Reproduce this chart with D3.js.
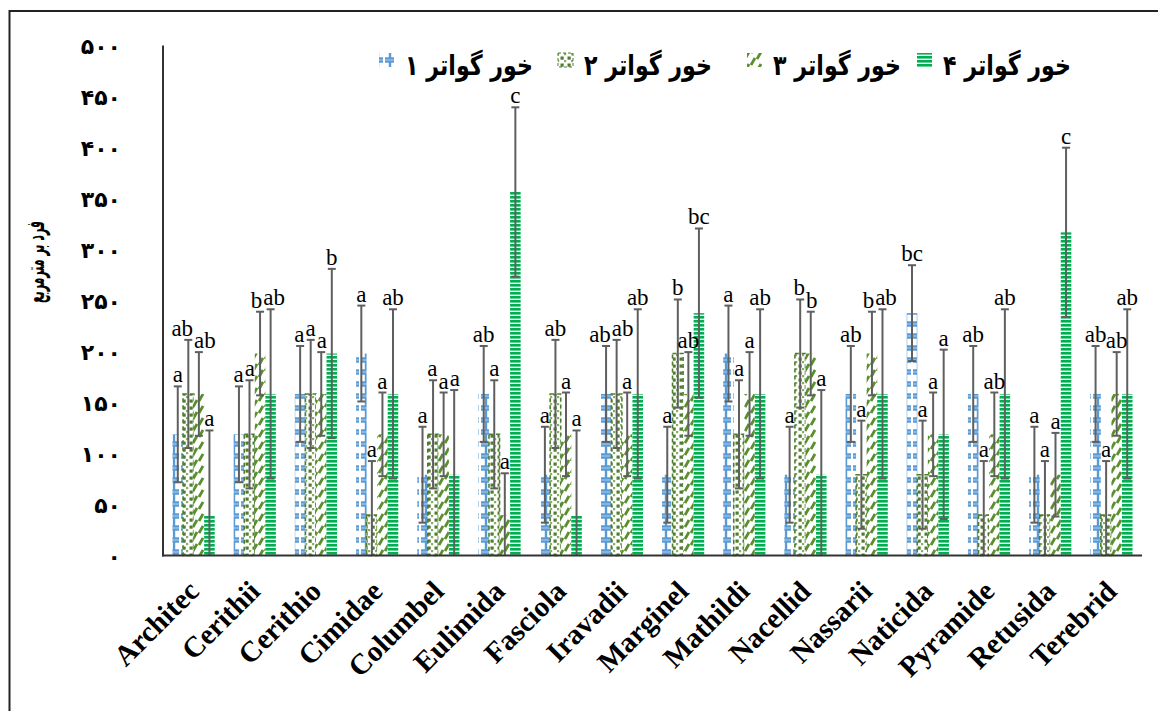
<!DOCTYPE html>
<html><head><meta charset="utf-8">
<script src="https://cdn.jsdelivr.net/npm/d3@7"></script>
<style>body{margin:0;background:#fff}</style>
</head><body>
<svg id="chart" width="1158" height="711"></svg>
<script>
const categories = ["Architec","Cerithii","Cerithio","Cimidae","Columbel","Eulimida","Fasciola","Iravadii","Marginel","Mathildi","Nacellid","Nassarii","Naticida","Pyramide","Retusida","Terebrid"];
const seriesNames = ["خور گواتر ۱","خور گواتر ۲","خور گواتر ۳","خور گواتر ۴"];
const means1 = [118.8,118.8,158.4,198,79.2,158.4,79.2,158.4,79.2,198,79.2,158.4,237.6,158.4,79.2,158.4];
const means2 = [158.4,118.8,158.4,39.6,118.8,118.8,158.4,158.4,198,118.8,198,79.2,79.2,39.6,39.6,39.6];
const means3 = [158.4,198,158.4,118.8,118.8,39.6,118.8,118.8,158.4,158.4,198,198,118.8,118.8,79.2,158.4];
const means4 = [39.6,158.4,198,158.4,79.2,356.4,39.6,158.4,237.6,158.4,79.2,158.4,118.8,158.4,316.8,158.4];
const err1 = [47,47,47,47,47,47,47,47,47,47,47,47,47,47,47,47];
const err2 = [53,53,53,53,53,53,53,53,53,53,53,53,53,53,53,53];
const err3 = [41,41,41,41,41,41,41,41,41,41,41,41,41,41,41,41];
const err4 = [83,83,83,83,83,83,83,83,83,83,83,83,83,83,83,83];
const letters1 = ["a","a","a","a","a","ab","a","ab","a","a","a","ab","bc","ab","a","ab"];
const letters2 = ["ab","a","a","a","a","a","ab","ab","b","a","b","a","a","a","a","a"];
const letters3 = ["ab","b","a","a","a","a","a","a","ab","a","b","b","a","ab","a","ab"];
const letters4 = ["a","ab","b","ab","a","c","a","ab","bc","ab","a","ab","a","ab","c","ab"];
const yTickValues = [0,50,100,150,200,250,300,350,400,450,500];
const yTickLabels = ["۰","۵۰","۱۰۰","۱۵۰","۲۰۰","۲۵۰","۳۰۰","۳۵۰","۴۰۰","۴۵۰","۵۰۰"];
const yTitle = "فرد بر مترمربع";

const meansAll = [means1, means2, means3, means4];
const errAll = [err1, err2, err3, err4];
const lettersAll = [letters1, letters2, letters3, letters4];

const svg = d3.select("#chart");
const W = 1158, H = 711;
svg.append("rect").attr("width", W).attr("height", H).attr("fill", "#fff");

// outer frame (only top and left visible)
svg.append("path").attr("d", "M9.5,720 V11 H1170").attr("fill", "none").attr("stroke", "#222").attr("stroke-width", 2);

const plot = {left: 163, right: 1142, top: 45.5, bottom: 555.5};

const x = d3.scaleBand().domain(categories).range([plot.left, plot.right]).paddingInner(0.31).paddingOuter(0.155);
const xs = d3.scaleBand().domain([0,1,2,3]).range([0, x.bandwidth()]);
const y = d3.scaleLinear().domain([0, 500]).range([plot.bottom, plot.top]);

// patterns
const defs = svg.append("defs");
const p1 = defs.append("pattern").attr("id","pat1").attr("patternUnits","userSpaceOnUse").attr("width",12).attr("height",12);
p1.append("rect").attr("width",12).attr("height",12).attr("fill","#fff");
p1.append("path").attr("d","M1,1.5H11M1,10.5H11M6,1.5V10.5").attr("stroke","#5B9BD5").attr("stroke-width",2.4).attr("fill","none");

const p2 = defs.append("pattern").attr("id","pat2").attr("patternUnits","userSpaceOnUse").attr("width",7).attr("height",7);
p2.append("rect").attr("width",7).attr("height",7).attr("fill","#fff");
p2.append("rect").attr("x",0.5).attr("y",0.5).attr("width",3.2).attr("height",3.2).attr("fill","#4E7D2F");
p2.append("rect").attr("x",4).attr("y",4).attr("width",2.2).attr("height",2.2).attr("fill","#86ad62");

const p3 = defs.append("pattern").attr("id","pat3").attr("patternUnits","userSpaceOnUse").attr("width",12).attr("height",12);
p3.append("rect").attr("width",12).attr("height",12).attr("fill","#fff");
p3.append("path").attr("d","M1,11 L5,4 M7,5 L11,-2 M7,17 L11,10").attr("stroke","#5A8F2E").attr("stroke-width",2.8).attr("fill","none");

const p4 = defs.append("pattern").attr("id","pat4").attr("patternUnits","userSpaceOnUse").attr("width",4).attr("height",4);
p4.append("rect").attr("width",4).attr("height",4).attr("fill","#fff");
p4.append("rect").attr("width",4).attr("height",2.6).attr("fill","#00B050");

const fills = ["url(#pat1)","url(#pat2)","url(#pat3)","url(#pat4)"];

// bars
const barsData = [];
categories.forEach((c, ci) => {
  for (let s = 0; s < 4; s++) {
    barsData.push({cat: c, ci, s, m: meansAll[s][ci], e: errAll[s][ci], l: lettersAll[s][ci]});
  }
});

const gBars = svg.append("g");
gBars.selectAll("rect").data(barsData).join("rect")
  .attr("x", d => x(d.cat) + xs(d.s))
  .attr("y", d => y(d.m))
  .attr("width", xs.bandwidth())
  .attr("height", d => y(0) - y(d.m))
  .attr("fill", d => fills[d.s])
  .attr("stroke", d => d.s === 1 ? "#4E7D2F" : "none")
  .attr("stroke-width", 1.6)
  .attr("stroke-dasharray", d => d.s === 1 ? "4,3" : null);

// error bars
const gErr = svg.append("g").attr("stroke", "#5f5f5f").attr("stroke-width", 2);
barsData.forEach(d => {
  const cx = x(d.cat) + xs(d.s) + xs.bandwidth() / 2;
  const lo = Math.max(0, d.m - d.e), hi = d.m + d.e;
  gErr.append("line").attr("x1", cx).attr("x2", cx).attr("y1", y(lo)).attr("y2", y(hi));
  gErr.append("line").attr("x1", cx - 4).attr("x2", cx + 4).attr("y1", y(hi)).attr("y2", y(hi));
  if (d.m - d.e > 0) gErr.append("line").attr("x1", cx - 4).attr("x2", cx + 4).attr("y1", y(lo)).attr("y2", y(lo));
});

// letters (with simple horizontal de-overlap inside each group)
const gLet = svg.append("g");
const letNodes = gLet.selectAll("text").data(barsData).join("text")
  .attr("x", d => x(d.cat) + xs(d.s) + xs.bandwidth() / 2)
  .attr("y", d => y(d.m + d.e) - 4)
  .attr("text-anchor", "middle")
  .attr("font-family", "Liberation Serif, Times New Roman, serif")
  .attr("font-size", 23)
  .attr("fill", "#000")
  .text(d => d.l);
{
  const info = letNodes.nodes().map((n, i) => ({n, d: barsData[i], cx: +n.getAttribute("x"), cy: +n.getAttribute("y"), w: n.getComputedTextLength()}));
  for (let pass = 0; pass < 4; pass++) {
    for (let i = 1; i < info.length; i++) {
      const a = info[i - 1], b = info[i];
      if (a.d.ci !== b.d.ci) continue;
      if (Math.abs(a.cy - b.cy) > 16) continue;
      const need = (a.w + b.w) / 2 + 1 - (b.cx - a.cx);
      if (need > 0) { a.cx -= need / 2; b.cx += need / 2; }
    }
  }
  info.forEach(o => o.n.setAttribute("x", o.cx));
}

// axes lines
svg.append("line").attr("x1", plot.left).attr("x2", plot.left).attr("y1", plot.top).attr("y2", plot.bottom + 1).attr("stroke", "#333").attr("stroke-width", 2);
svg.append("line").attr("x1", plot.left - 1).attr("x2", plot.right).attr("y1", plot.bottom).attr("y2", plot.bottom).attr("stroke", "#333").attr("stroke-width", 2);

// y tick labels
const yAxis = d3.axisLeft(y).tickValues(yTickValues).tickFormat((d, i) => yTickLabels[i]).tickSize(0).tickPadding(0);
const gy = svg.append("g").attr("transform", `translate(121,0)`).call(yAxis);
gy.select(".domain").remove();
gy.selectAll("text").attr("font-family", "DejaVu Sans, sans-serif").attr("font-weight", "bold").attr("font-size", 22).attr("fill", "#000").attr("dy", "0.35em");

// y title (compressed along its length to fit)
const ytG = svg.append("g").attr("transform", "translate(35,262) rotate(-90)");
const yt = ytG.append("text")
  .attr("x", 0).attr("y", 0)
  .attr("text-anchor", "middle").attr("dy", "0.35em")
  .attr("font-family", "DejaVu Sans, sans-serif").attr("font-weight", "bold").attr("font-size", 26)
  .attr("fill", "#000").text(yTitle);
{
  const w = yt.node().getComputedTextLength();
  const sx = Math.min(1, 82 / w);
  yt.attr("transform", `scale(${sx},1)`);
}

// x labels
const xAxis = d3.axisBottom(x).tickSize(0).tickPadding(0);
const gx = svg.append("g").call(xAxis);
gx.select(".domain").remove();
gx.selectAll(".tick").attr("transform", d => `translate(${x(d) + x.bandwidth()/2 + 7},593)`);
gx.selectAll("text").attr("y", 0).attr("dy", 0).attr("transform", "rotate(-45)")
  .attr("text-anchor", "end")
  .attr("font-family", "Liberation Serif, Times New Roman, serif").attr("font-weight", "bold").attr("font-size", 29).attr("fill", "#000");

// legend
const legendX = [379, 558, 747, 917];
const legendTextTarget = 128;
const gl = svg.append("g");
seriesNames.forEach((name, i) => {
  gl.append("rect").attr("x", legendX[i]).attr("y", 53).attr("width", 15).attr("height", 14)
    .attr("fill", fills[i]).attr("stroke", i === 1 ? "#4E7D2F" : "none").attr("stroke-dasharray", i === 1 ? "3,2" : null);
  const g = gl.append("g");
  const t = g.append("text").attr("x", 0).attr("y", 0)
    .attr("font-family", "DejaVu Sans, sans-serif").attr("font-weight", "bold").attr("font-size", 28)
    .attr("fill", "#000").text(name);
  const bb = t.node().getBBox();
  const sx = Math.min(1, legendTextTarget / bb.width);
  g.attr("transform", `translate(${legendX[i] + 26 - bb.x * sx},75) scale(${sx},1)`);
});
</script>
</body></html>
